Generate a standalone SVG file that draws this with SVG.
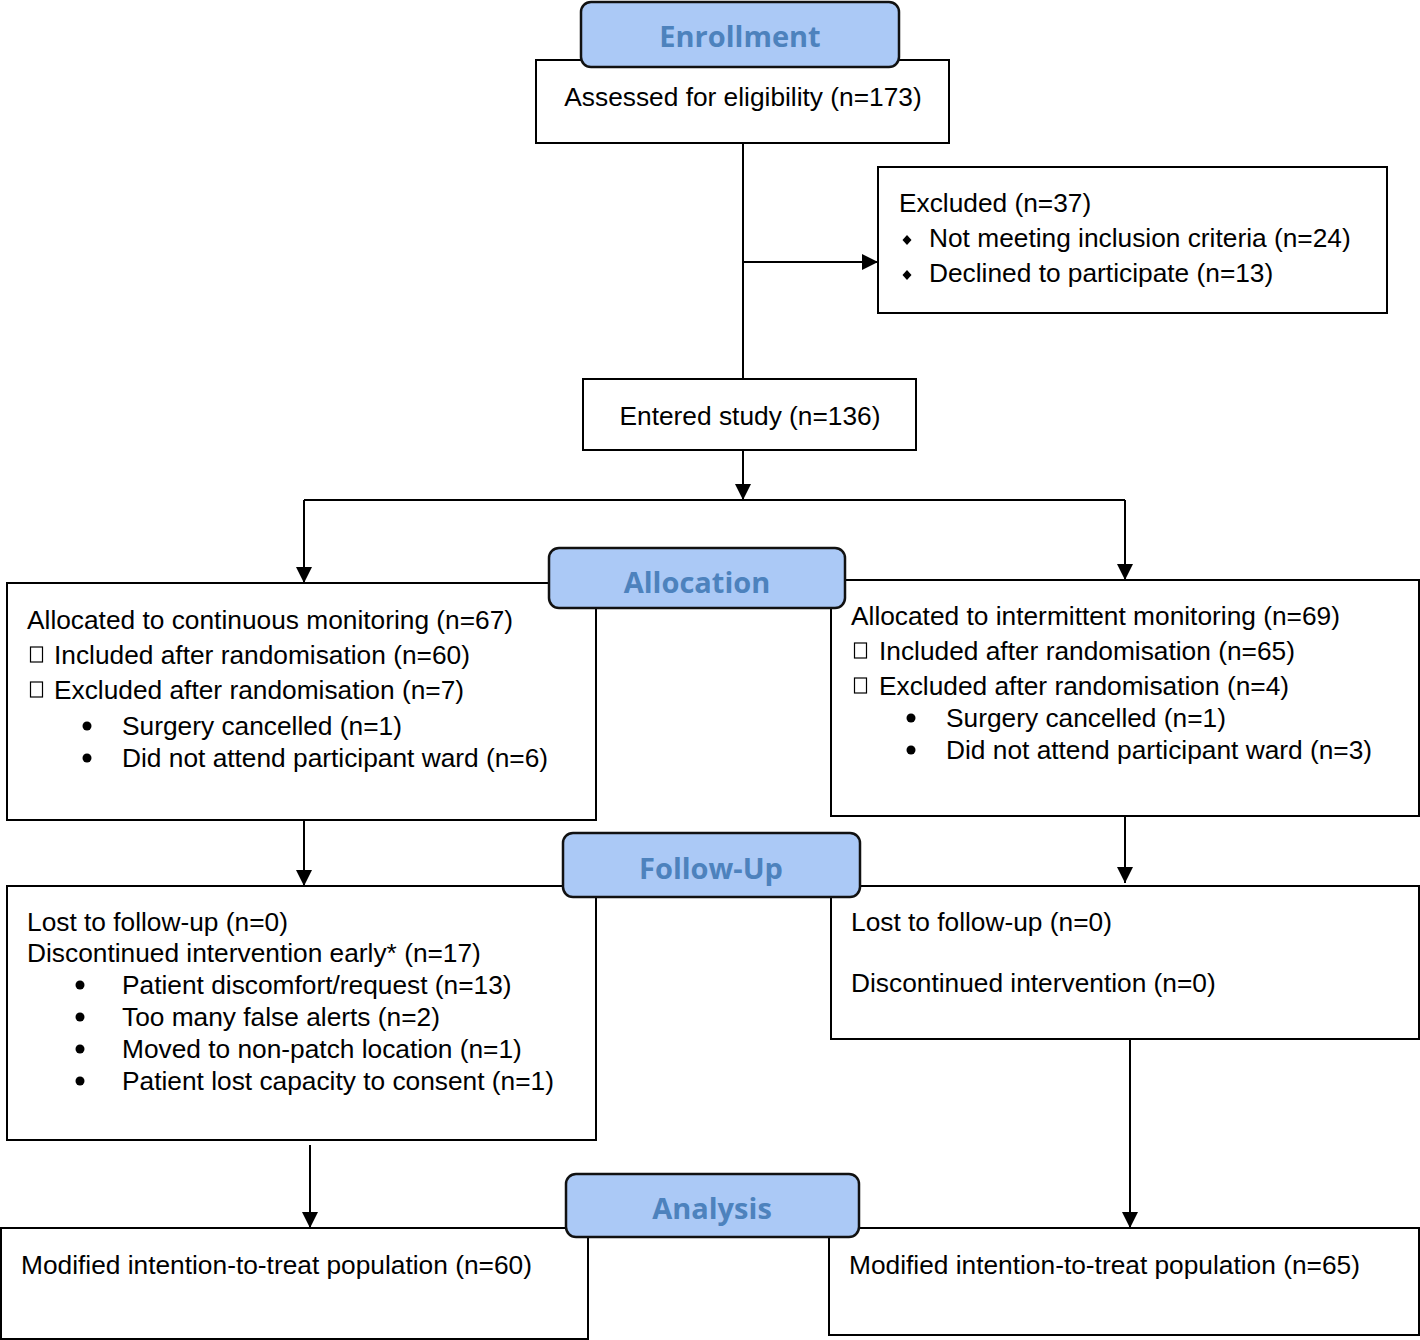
<svg xmlns="http://www.w3.org/2000/svg" width="1420" height="1340" viewBox="0 0 1420 1340">
<style>
.box{fill:#fff;stroke:#000;stroke-width:2}
.hdr{fill:#abc9f6;stroke:#111;stroke-width:2.5}
.ht{font-family:"Open Sans","Liberation Sans",sans-serif;font-weight:bold;font-size:29px;fill:#4d82bd;text-anchor:middle}
.t{font-family:"Liberation Sans",Arial,sans-serif;font-size:26.3px;fill:#000}
.ln{fill:none;stroke:#000;stroke-width:2}
.sq{fill:#fff;stroke:#000;stroke-width:1.2}
</style>
<defs>
<marker id="ah" viewBox="0 0 16 16" refX="16" refY="8" markerWidth="16" markerHeight="16" markerUnits="userSpaceOnUse" orient="auto">
<path d="M0,0 L16,8 L0,16 Z" fill="#000"/>
</marker>
</defs>
<g id="connectors">
<path class="ln" d="M743,143 V379"/>
<path class="ln" d="M743,262 H878" marker-end="url(#ah)"/>
<path class="ln" d="M743,450 V500" marker-end="url(#ah)"/>
<path class="ln" d="M304,500 H1125"/>
<path class="ln" d="M304,500 V583" marker-end="url(#ah)"/>
<path class="ln" d="M1125,500 V580" marker-end="url(#ah)"/>
<path class="ln" d="M304,820 V886" marker-end="url(#ah)"/>
<path class="ln" d="M1125,816 V883" marker-end="url(#ah)"/>
<path class="ln" d="M310,1145 V1228" marker-end="url(#ah)"/>
<path class="ln" d="M1130,1039 V1228" marker-end="url(#ah)"/>
</g>
<g id="assessed">
<rect class="box" x="536" y="60" width="413" height="83"/>
<text class="t" x="743" y="106" text-anchor="middle">Assessed for eligibility (n=173)</text>
</g>
<g id="enrollment">
<rect class="hdr" x="581" y="2" width="318" height="65" rx="10"/>
<text class="ht" x="740" y="47">Enrollment</text>
</g>
<g id="excluded">
<rect class="box" x="878" y="167" width="509" height="146"/>
<text class="t" x="899" y="212">Excluded (n=37)</text>
<path d="M907,235 l4.5,5 l-4.5,5 l-4.5,-5 Z" fill="#000"/>
<text class="t" x="929" y="247">Not meeting inclusion criteria (n=24)</text>
<path d="M907,270 l4.5,5 l-4.5,5 l-4.5,-5 Z" fill="#000"/>
<text class="t" x="929" y="282">Declined to participate (n=13)</text>
</g>
<g id="entered">
<rect class="box" x="583" y="379" width="333" height="71"/>
<text class="t" x="750" y="425" text-anchor="middle">Entered study (n=136)</text>
</g>
<g id="alloc-left">
<rect class="box" x="7" y="583" width="589" height="237"/>
<text class="t" x="27" y="629">Allocated to continuous monitoring (n=67)</text>
<rect class="sq" x="30.5" y="647" width="12" height="15"/>
<text class="t" x="54" y="664">Included after randomisation (n=60)</text>
<rect class="sq" x="30.5" y="682" width="12" height="15"/>
<text class="t" x="54" y="699">Excluded after randomisation (n=7)</text>
<circle cx="87" cy="726" r="4.5" fill="#000"/>
<text class="t" x="122" y="735">Surgery cancelled (n=1)</text>
<circle cx="87" cy="758" r="4.5" fill="#000"/>
<text class="t" x="122" y="767">Did not attend participant ward (n=6)</text>
</g>
<g id="alloc-right">
<rect class="box" x="831" y="580" width="588" height="236"/>
<text class="t" x="851" y="625">Allocated to intermittent monitoring (n=69)</text>
<rect class="sq" x="854.5" y="643" width="12" height="15"/>
<text class="t" x="879" y="660">Included after randomisation (n=65)</text>
<rect class="sq" x="854.5" y="678" width="12" height="15"/>
<text class="t" x="879" y="695">Excluded after randomisation (n=4)</text>
<circle cx="911" cy="718" r="4.5" fill="#000"/>
<text class="t" x="946" y="727">Surgery cancelled (n=1)</text>
<circle cx="911" cy="750" r="4.5" fill="#000"/>
<text class="t" x="946" y="759">Did not attend participant ward (n=3)</text>
</g>
<g id="allocation">
<rect class="hdr" x="549" y="548" width="296" height="60" rx="10"/>
<text class="ht" x="697" y="593">Allocation</text>
</g>
<g id="follow-left">
<rect class="box" x="7" y="886" width="589" height="254"/>
<text class="t" x="27" y="931">Lost to follow-up (n=0)</text>
<text class="t" x="27" y="962">Discontinued intervention early* (n=17)</text>
<circle cx="80" cy="985" r="4.5" fill="#000"/>
<text class="t" x="122" y="994">Patient discomfort/request (n=13)</text>
<circle cx="80" cy="1017" r="4.5" fill="#000"/>
<text class="t" x="122" y="1026">Too many false alerts (n=2)</text>
<circle cx="80" cy="1049" r="4.5" fill="#000"/>
<text class="t" x="122" y="1058">Moved to non-patch location (n=1)</text>
<circle cx="80" cy="1081" r="4.5" fill="#000"/>
<text class="t" x="122" y="1090">Patient lost capacity to consent (n=1)</text>
</g>
<g id="follow-right">
<rect class="box" x="831" y="886" width="588" height="153"/>
<text class="t" x="851" y="931">Lost to follow-up (n=0)</text>
<text class="t" x="851" y="992">Discontinued intervention (n=0)</text>
</g>
<g id="followup">
<rect class="hdr" x="563" y="833" width="297" height="64" rx="10"/>
<text class="ht" x="711" y="879">Follow-Up</text>
</g>
<g id="itt-left">
<rect class="box" x="1" y="1228" width="587" height="111"/>
<text class="t" x="21" y="1274">Modified intention-to-treat population (n=60)</text>
</g>
<g id="itt-right">
<rect class="box" x="829" y="1228" width="590" height="107"/>
<text class="t" x="849" y="1274">Modified intention-to-treat population (n=65)</text>
</g>
<g id="analysis">
<rect class="hdr" x="566" y="1174" width="293" height="63" rx="10"/>
<text class="ht" x="712" y="1219">Analysis</text>
</g>
</svg>
